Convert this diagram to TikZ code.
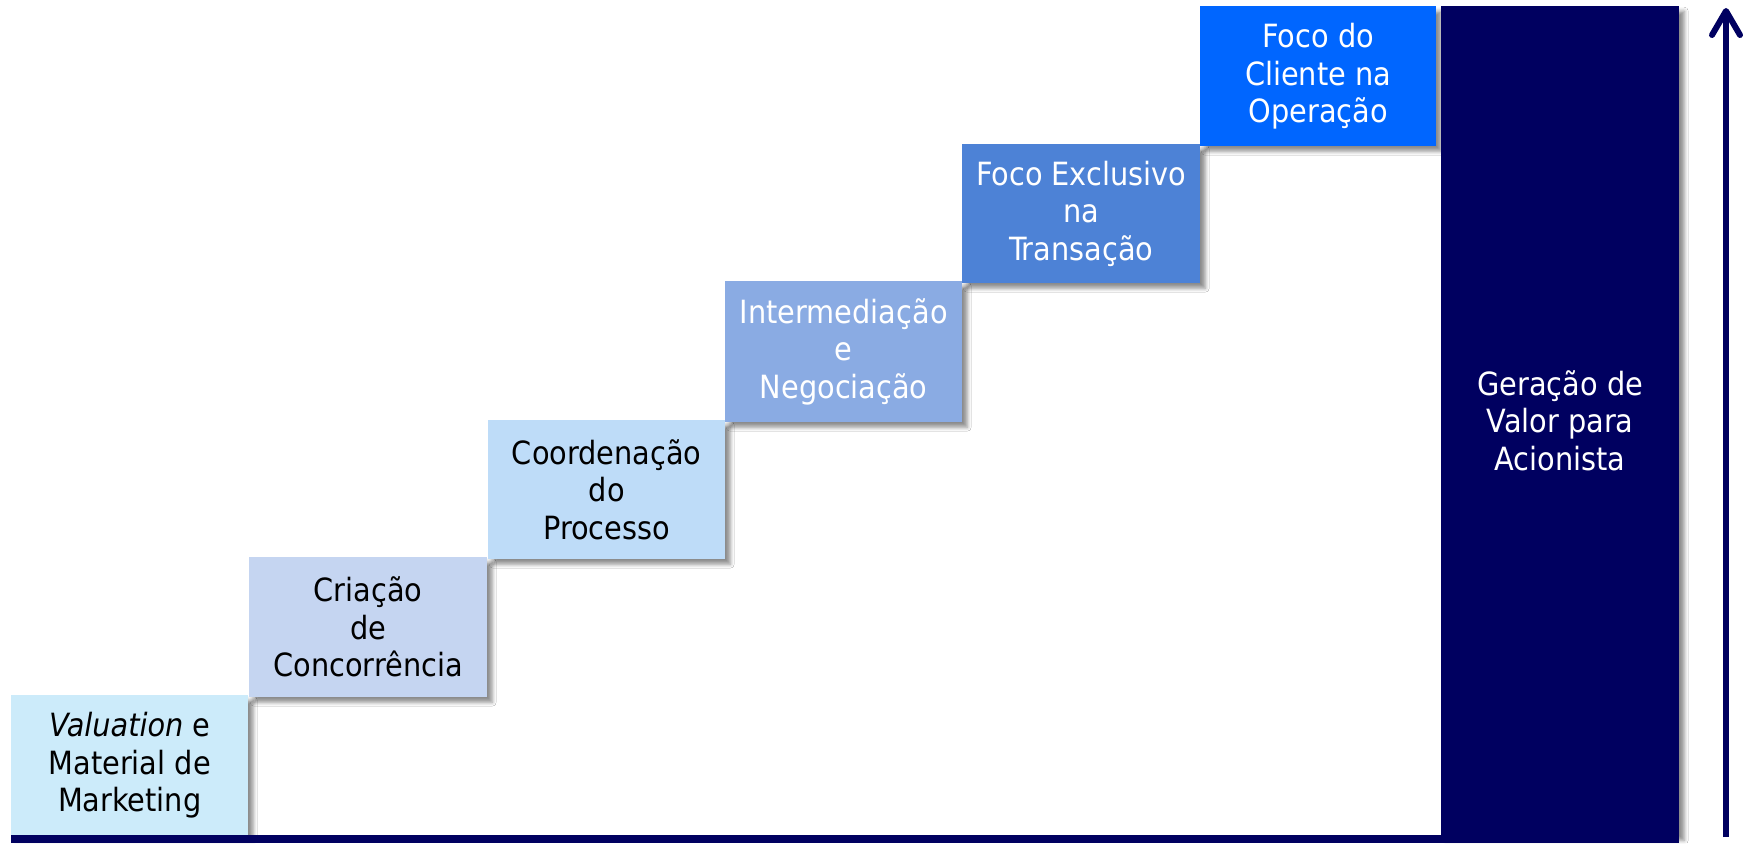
\documentclass[tikz,border=0pt]{standalone}
\usepackage{fontspec}
\setmainfont{DejaVu Sans Condensed}
\usetikzlibrary{shadows.blur,arrows.meta}

\definecolor{stepA}{RGB}{204,235,250}
\definecolor{stepB}{RGB}{197,213,241}
\definecolor{stepC}{RGB}{190,220,248}
\definecolor{stepD}{RGB}{138,171,227}
\definecolor{stepE}{RGB}{77,130,214}
\definecolor{stepF}{RGB}{0,102,255}
\definecolor{navy}{RGB}{0,0,96}

\tikzset{
  stepbox/.style={
    rectangle, anchor=north west, inner sep=0pt, align=center,
    minimum width=237pt, minimum height=140pt,
    font=\fontsize{32}{37.5}\selectfont,
    blur shadow={shadow xshift=5pt, shadow yshift=-5pt,
                 shadow blur radius=4pt, shadow opacity=45}
  },
  darktext/.style={text=black},
  lighttext/.style={text=white},
  upaxis/.style={draw=navy, line width=6pt,
    -{Straight Barb[length=24pt,width=28pt,round]}}
}

\begin{document}
\begin{tikzpicture}[x=1pt, y=-1pt]
  \fill[white] (0,0) rectangle (1750,843);

  % staircase of stages
  \node[stepbox, darktext, fill=stepA] (s1) at (11,695)
    {\textit{Valuation} e\\Material de\\Marketing};
  \node[stepbox, darktext, fill=stepB, minimum width=238pt] (s2) at (249,557)
    {Criação\\de\\Concorrência};
  \node[stepbox, darktext, fill=stepC, minimum height=139pt] (s3) at (488,420)
    {Coordenação\\do\\Processo};
  \node[stepbox, lighttext, fill=stepD, minimum height=141pt] (s4) at (725,281)
    {Intermediação\\e\\Negociação};
  \node[stepbox, lighttext, fill=stepE, minimum width=238pt, minimum height=139pt] (s5) at (962,144)
    {Foco Exclusivo\\na\\Transação};
  \node[stepbox, lighttext, fill=stepF, minimum width=236pt] (s6) at (1200,6)
    {Foco do\\Cliente na\\Operação};

  % tall result column
  \node[stepbox, lighttext, fill=navy, minimum width=238pt, minimum height=829pt] (val) at (1441,6)
    {Geração de\\Valor para\\Acionista};

  % base line
  \fill[navy] (11,835) rectangle (1679,843);

  % vertical axis arrow
  \coordinate (axisbot) at (1726,837);
  \coordinate (axistop) at (1726,8);
  \draw[upaxis] (axisbot) -- (axistop);

  % fixed page frame
  \pgfresetboundingbox
  \useasboundingbox (0,0) rectangle (1750,843);
\end{tikzpicture}
\end{document}
